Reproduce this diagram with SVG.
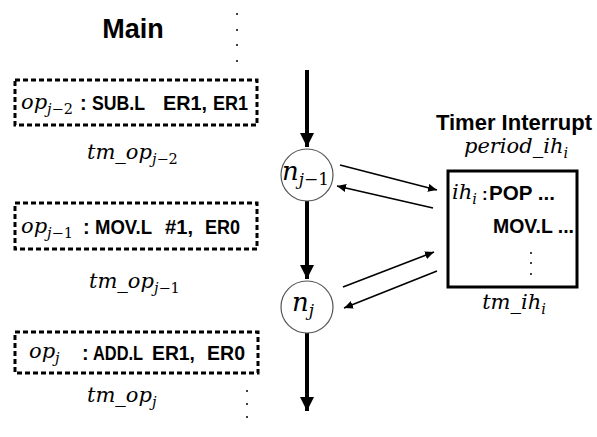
<svg xmlns="http://www.w3.org/2000/svg" width="597" height="437" viewBox="0 0 597 437">
  <defs>
    <marker id="headBig" markerWidth="14" markerHeight="14" refX="14" refY="7" orient="auto" markerUnits="userSpaceOnUse">
      <path d="M0,0 L14,7 L0,14 Z" fill="#000"/>
    </marker>
    <marker id="headSmall" markerWidth="9" markerHeight="8" refX="9" refY="4" orient="auto" markerUnits="userSpaceOnUse">
      <path d="M0,0 L9,4 L0,8 Z" fill="#000"/>
    </marker>
  </defs>
  <style>
    .title { font-family: "Liberation Sans", Arial, sans-serif; font-weight: bold; fill: #000; }
    .code { font-family: "Liberation Sans", Arial, sans-serif; font-weight: bold; font-size: 20px; fill: #000; }
    .math { font-family: "DejaVu Serif", serif; font-style: italic; font-size: 21px; fill: #000; }
    .sub { font-size: 14.5px; font-style: normal; }
    .subi { font-size: 14.5px; }
    .nlabel { font-size: 26px; }
    .nsub { font-size: 17px; }
    .op { fill: none; stroke: #000; stroke-width: 3; stroke-dasharray: 5 3; }
    .node { fill: #fff; stroke: #555; stroke-width: 1.2; }
    .flow { stroke: #000; stroke-width: 4; fill: none; }
    .link { stroke: #000; stroke-width: 1.6; fill: none; }
    .dot { fill: #000; }
  </style>

  <rect width="597" height="437" fill="#fff"/>

  <!-- Main column -->
  <g id="main-title">
    <text class="title" x="133" y="38" font-size="27" text-anchor="middle">Main</text>
    <circle class="dot" cx="237" cy="14" r="1"/>
    <circle class="dot" cx="237" cy="30" r="1"/>
    <circle class="dot" cx="237" cy="45" r="1"/>
    <circle class="dot" cx="237" cy="61" r="1"/>
  </g>

  <g id="op-j-2">
    <rect class="op" x="15" y="80" width="242" height="45"/>
    <text class="math" x="21" y="109">op<tspan class="subi" dy="5">j</tspan><tspan class="sub">−2</tspan></text>
    <text class="code" x="80" y="110">:</text>
    <text class="code" x="92" y="110" textLength="53" lengthAdjust="spacingAndGlyphs">SUB.L</text>
    <text class="code" x="163" y="110" textLength="44" lengthAdjust="spacingAndGlyphs">ER1,</text>
    <text class="code" x="213" y="110" textLength="35" lengthAdjust="spacingAndGlyphs">ER1</text>
  </g>
  <g id="tm-op-j-2">
    <text class="math" x="87" y="159">tm_op<tspan class="subi" dy="5">j</tspan><tspan class="sub">−2</tspan></text>
  </g>

  <g id="op-j-1">
    <rect class="op" x="15" y="203" width="242" height="46"/>
    <text class="math" x="21" y="233">op<tspan class="subi" dy="5">j</tspan><tspan class="sub">−1</tspan></text>
    <text class="code" x="83" y="234">:</text>
    <text class="code" x="95" y="234" textLength="57" lengthAdjust="spacingAndGlyphs">MOV.L</text>
    <text class="code" x="165" y="234" textLength="28" lengthAdjust="spacingAndGlyphs">#1,</text>
    <text class="code" x="205" y="234" textLength="35" lengthAdjust="spacingAndGlyphs">ER0</text>
  </g>
  <g id="tm-op-j-1">
    <text class="math" x="89" y="288">tm_op<tspan class="subi" dy="5">j</tspan><tspan class="sub">−1</tspan></text>
  </g>

  <g id="op-j">
    <rect class="op" x="15" y="332" width="243" height="41"/>
    <text class="math" x="29" y="358">op<tspan class="subi" dy="5">j</tspan></text>
    <text class="code" x="82" y="360">:</text>
    <text class="code" x="93" y="360" textLength="50" lengthAdjust="spacingAndGlyphs">ADD.L</text>
    <text class="code" x="152" y="360" textLength="43" lengthAdjust="spacingAndGlyphs">ER1,</text>
    <text class="code" x="207" y="360" textLength="38" lengthAdjust="spacingAndGlyphs">ER0</text>
  </g>
  <g id="tm-op-j">
    <text class="math" x="87" y="402">tm_op<tspan class="subi" dy="5">j</tspan></text>
    <circle class="dot" cx="247" cy="391" r="1"/>
    <circle class="dot" cx="247" cy="404" r="1"/>
    <circle class="dot" cx="247" cy="417" r="1"/>
  </g>

  <!-- Timer interrupt handler -->
  <g id="timer-interrupt">
    <text class="title" x="514" y="130" font-size="22" text-anchor="middle">Timer Interrupt</text>
    <text class="math" x="516" y="153" text-anchor="middle">period_ih<tspan class="subi" dy="5">i</tspan></text>
    <rect x="448" y="171" width="129" height="116" fill="none" stroke="#000" stroke-width="3"/>
    <text class="math" x="452" y="199">ih<tspan class="subi" dy="5">i</tspan></text>
    <text class="code" x="482" y="200" style="font-size:17px">:</text>
    <text class="code" x="489" y="200" textLength="66" lengthAdjust="spacingAndGlyphs">POP ...</text>
    <text class="code" x="493" y="233" textLength="81" lengthAdjust="spacingAndGlyphs">MOV.L ...</text>
    <circle class="dot" cx="531" cy="253" r="1"/>
    <circle class="dot" cx="531" cy="263" r="1"/>
    <circle class="dot" cx="531" cy="274" r="1"/>
    <text class="math" x="514" y="309" text-anchor="middle">tm_ih<tspan class="subi" dy="5">i</tspan></text>
  </g>

  <!-- Connectors -->
  <g id="connectors">
    <line class="flow" x1="307" y1="70" x2="307" y2="147" marker-end="url(#headBig)"/>
    <line class="flow" x1="307" y1="201" x2="307" y2="279" marker-end="url(#headBig)"/>
    <line class="flow" x1="307" y1="333" x2="307" y2="411" marker-end="url(#headBig)"/>
    <line class="link" x1="340" y1="165" x2="437" y2="190" marker-end="url(#headSmall)"/>
    <line class="link" x1="433" y1="208" x2="337" y2="186" marker-end="url(#headSmall)"/>
    <line class="link" x1="343" y1="287" x2="434" y2="252" marker-end="url(#headSmall)"/>
    <line class="link" x1="437" y1="271" x2="344" y2="308" marker-end="url(#headSmall)"/>
  </g>

  <!-- Sequence points -->
  <g id="n-j-1">
    <circle class="node" cx="307" cy="175" r="26"/>
    <text class="math nlabel" x="282" y="180">n<tspan class="nsub" dy="5">j</tspan><tspan class="nsub" style="font-style:normal">−1</tspan></text>
  </g>
  <g id="n-j">
    <circle class="node" cx="307" cy="307" r="26"/>
    <text class="math nlabel" x="292" y="311">n<tspan class="nsub" dy="5">j</tspan></text>
  </g>
</svg>
